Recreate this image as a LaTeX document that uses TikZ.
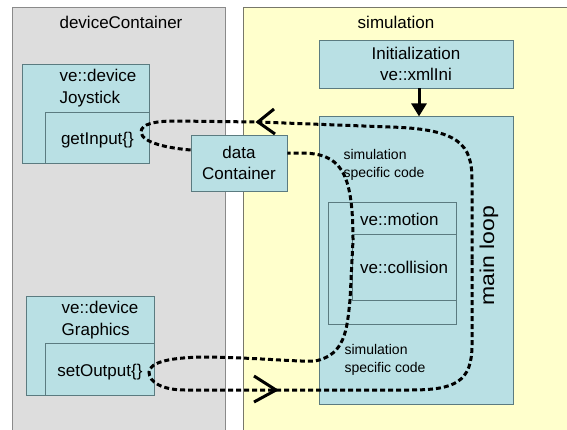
\documentclass[tikz,border=0pt]{standalone}
\usepackage{fontspec}
\setmainfont{Liberation Sans}
\usetikzlibrary{positioning,arrows.meta}
\definecolor{panelgray}{HTML}{DDDDDD}
\definecolor{panelline}{HTML}{8A8A8A}
\definecolor{panelyellow}{HTML}{FFFFCC}
\definecolor{yellowline}{HTML}{77776A}
\definecolor{boxfill}{HTML}{B9E0E4}
\definecolor{boxline}{HTML}{5B7B80}
\newcommand\boxfont{\fontsize{17pt}{21.5pt}\selectfont}
\newcommand\notefont{\fontsize{14pt}{18pt}\selectfont}
\newcommand\loopfont{\fontsize{20pt}{24pt}\selectfont}
\tikzset{
  box/.style={draw=boxline, fill=boxfill, line width=0.8pt, inner sep=0pt,
    align=center, font=\boxfont},
  io/.style={box, text height=14pt, text depth=0pt},
  lbl/.style={inner sep=0pt, align=left, font=\boxfont},
  note/.style={inner sep=0pt, align=left, font=\notefont},
  flow/.style={draw, line width=3pt, dash pattern=on 5pt off 3pt},
  chev/.style={draw, line width=3pt},
}

\begin{document}
\begin{tikzpicture}[x=1pt, y=-1pt]
\useasboundingbox (0,0) rectangle (567,429);

% the two containers
\draw[fill=panelgray, draw=panelline] (12,7) rectangle (225,445);
\draw[fill=panelyellow, draw=yellowline] (243,7) rectangle (580,445);
\node[lbl, anchor=base] (devTitle) at (121,28) {deviceContainer};
\node[lbl, anchor=base] (simTitle) at (396,28) {simulation};

% devices
\node[box, anchor=north west, minimum width=127pt, minimum height=99pt] (joyOut) at (22,64) {};
\node[io, anchor=south east, minimum width=104pt, minimum height=51pt] (joyIn) at (joyOut.south east) {getInput\{\}};
\node[lbl] (joyName) at (98,88) {ve::device\\Joystick};

\node[box, anchor=north west, minimum width=128pt, minimum height=99pt] (grOut) at (26,296) {};
\node[io, anchor=south east, minimum width=109pt, minimum height=52pt] (grIn) at (grOut.south east) {setOutput\{\}};
\node[lbl] (grName) at (100,320) {ve::device\\Graphics};

\node[box, minimum width=96pt, minimum height=56pt] (dataC) at (239,163) {data\\Container};

% simulation
\node[box, minimum width=194pt, minimum height=48pt] (init) at (416,64) {Initialization\\ve::xmlIni};
\node[box, below=28pt of init, minimum width=194pt, minimum height=288pt] (mainloop) {};
\node[font=\loopfont, rotate=90, inner sep=0pt] (loopTxt) at (489,256) {\scalebox{1.15}[1]{main loop}};
\node[note] (noteTop) at (384,165) {simulation\\specific code};
\node[note] (noteBot) at (385,360) {simulation\\specific code};

\node[box, anchor=north west, minimum width=128pt, minimum height=122pt] (motion) at (328,202) {};
\node[box, anchor=north east, minimum width=104pt, minimum height=66pt] (collision) at ([yshift=-32pt]motion.north east) {};
\node[lbl, anchor=west] (motionTxt) at (360,219) {ve::motion};
\node[lbl, anchor=west] (collTxt) at ([xshift=8pt]collision.west) {ve::collision};

\draw[-{Triangle[length=13pt,width=15pt]}, line width=3pt] ([xshift=3pt]init.south) -- ([xshift=3pt]mainloop.north);

% data flow
\coordinate (inTip) at (258,122);
\coordinate (outTip) at (276,390);
\coordinate (loopR) at (472,260);
\draw[flow] ([yshift=13pt]dataC.west) .. controls (168,148) and (142,143) .. (141,132)
  .. controls (141,124) and (155,121) .. (175,121) -- (inTip) -- (390,127)
  .. controls (460,129) and (472,145) .. (472,180) -- (loopR);
\draw[flow] (loopR) -- (472,345)
  .. controls (472,382) and (455,390) .. (410,390) -- (outTip) -- (185,390)
  .. controls (162,390) and (149,382) .. (149,372)
  .. controls (150,362) and (170,357) .. (210,357)
  .. controls (260,358) and (300,362) .. (315,361)
  .. controls (345,355) and (347,330) .. (350,300) -- (353,240)
  .. controls (353,170) and (340,153) .. (300,153) -- ([yshift=10pt]dataC.east);
\draw[chev] ([shift={(16,-13)}]inTip) -- (inTip) -- ([shift={(17,12)}]inTip);
\draw[chev] ([shift={(-22,-14)}]outTip) -- (outTip) -- ([shift={(-22,12)}]outTip);
\end{tikzpicture}
\end{document}
